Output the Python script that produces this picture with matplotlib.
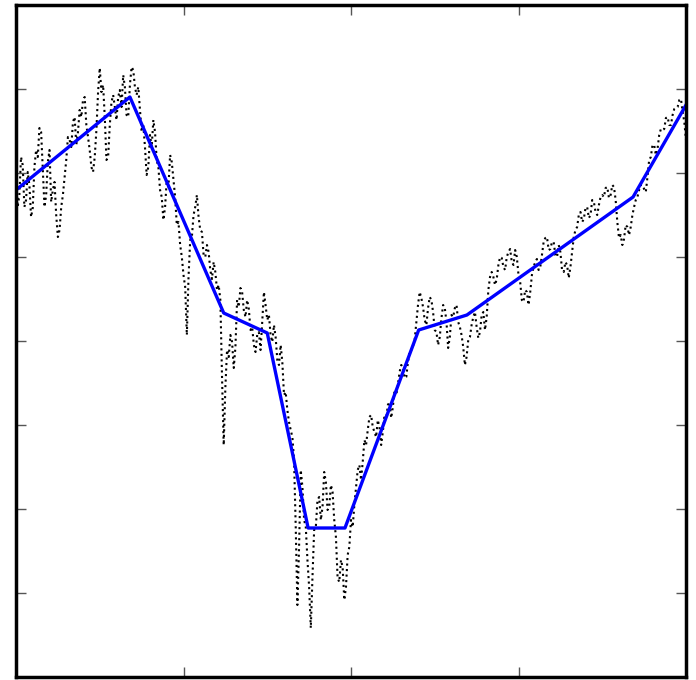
import numpy as np
import matplotlib
matplotlib.use("Agg")
import matplotlib.pyplot as plt

# noisy series, sampled every 5 units along x (0..1000)
serie = [502, 482, 512, 477, 492, 469, 527, 549, 507, 482,
         527, 487, 462, 447, 482, 517, 537, 555, 532, 567,
         577, 552, 527, 505, 547, 609, 592, 517, 552, 582,
         557, 587, 602, 562, 592, 607, 582, 567, 552, 502,
         542, 557, 517, 487, 457, 497, 522, 497, 452, 432,
         402, 342, 437, 462, 482, 447, 422, 432, 407, 415,
         387, 377, 232, 327, 342, 309, 377, 389, 367, 377,
         347, 332, 342, 327, 385, 357, 342, 352, 317, 332,
         282, 267, 247, 217, 72, 207, 157, 117, 49, 147,
         177, 157, 205, 167, 192, 157, 99, 117, 77, 122,
         157, 172, 207, 197, 237, 247, 262, 245, 257, 232,
         262, 272, 259, 287, 292, 312, 299, 315, 327, 337,
         372, 379, 357, 369, 377, 347, 332, 359, 369, 329,
         362, 369, 355, 342, 312, 337, 352, 365, 339, 362,
         347, 387, 405, 392, 412, 419, 407, 425, 415, 427,
         402, 377, 387, 372, 402, 415, 407, 422, 439, 427,
         435, 422, 432, 407, 415, 399, 425, 447, 462, 455,
         469, 459, 477, 465, 472, 482, 489, 479, 492, 477,
         439, 432, 452, 442, 462, 477, 487, 492, 485, 517,
         532, 522, 542, 547, 559, 552, 562, 569, 577, 565,
         537]

# in-between samples (x = 2.5, 7.5, ...)
serie_meio = [470, 520, 470, 505, 460, 510, 520, 545, 470, 515,
              475, 495, 440, 470, 500, 540, 530, 560, 545, 560,
              580, 540, 510, 520, 585, 585, 560, 520, 575, 570,
              580, 570, 590, 560, 610, 590, 590, 545, 530, 510,
              530, 545, 510, 480, 470, 490, 515, 480, 455, 420,
              390, 400, 440, 470, 460, 445, 420, 425, 398, 405,
              392, 300, 290, 320, 335, 330, 370, 385, 360, 368,
              350, 325, 345, 355, 372, 362, 335, 340, 312, 315,
              285, 255, 240, 150, 130, 190, 150, 90, 100, 150,
              180, 170, 195, 170, 185, 140, 95, 110, 90, 130,
              150, 190, 212, 215, 232, 260, 250, 240, 250, 245,
              258, 275, 270, 282, 305, 310, 300, 325, 330, 355,
              385, 370, 352, 380, 365, 345, 340, 372, 355, 340,
              360, 372, 350, 330, 320, 340, 360, 350, 345, 365,
              360, 400, 400, 398, 420, 410, 420, 428, 412, 420,
              395, 375, 385, 385, 410, 418, 410, 435, 440, 428,
              435, 420, 425, 405, 412, 410, 440, 450, 465, 458,
              470, 462, 475, 462, 480, 480, 490, 482, 490, 455,
              442, 438, 450, 450, 470, 480, 492, 488, 500, 520,
              532, 528, 548, 548, 560, 552, 568, 570, 578, 555]

y_serie = np.empty(len(serie) + len(serie_meio))
y_serie[0::2] = serie
y_serie[1::2] = serie_meio
x_serie = np.arange(len(y_serie)) * 2.5

# piecewise linear fit (knots)
x_ajuste = [0, 170, 310, 375, 436, 491, 601, 673, 921, 1000]
y_ajuste = [487, 580, 364, 344, 149, 149, 347, 362, 480, 572]

fig = plt.figure(figsize=(6.96, 6.8), dpi=100)
ax = fig.add_axes([16/696, 3/680, 670/696, 672/680])

ax.plot(x_serie, y_serie, color='black', linestyle=':', linewidth=1.5)
ax.plot(x_ajuste, y_ajuste, color='#0000ff', linewidth=2.4)

ax.set_xlim(0, 1000)
ax.set_ylim(0, 672)
ax.set_xticks([250, 500, 750])
ax.set_yticks(np.arange(1, 8) * 84)
ax.set_xticklabels([])
ax.set_yticklabels([])
ax.tick_params(direction='in', length=7, width=1, color='#555555',
               top=True, right=True)
for s in ax.spines.values():
    s.set_linewidth(2.5)
    s.set_color('black')

fig.savefig('out.png', dpi=100)
